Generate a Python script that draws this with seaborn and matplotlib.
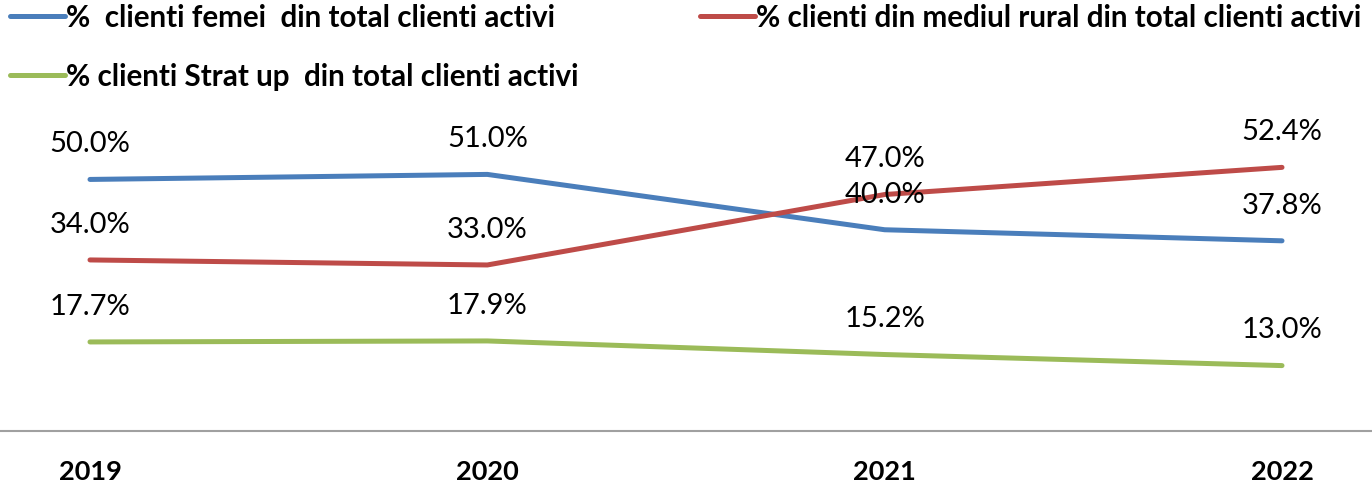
import pandas as pd
import numpy as np
import matplotlib.pyplot as plt
import seaborn as sns

# date
ani = [2019, 2020, 2021, 2022]
femei = [50.0, 51.0, 40.0, 37.8]
rural = [34.0, 33.0, 47.0, 52.4]
startup = [17.7, 17.9, 15.2, 13.0]

serii = ['%  clienti femei  din total clienti activi',
         '% clienti din mediul rural din total clienti activi',
         '% clienti Strat up  din total clienti activi']
culori = ['#4A7EBB', '#BE4B48', '#9BBB59']

df = pd.DataFrame({
    'an': ani * 3,
    'valoare': femei + rural + startup,
    'serie': [serii[0]] * 4 + [serii[1]] * 4 + [serii[2]] * 4,
})

sns.set_theme(style='white')
plt.rcParams['font.family'] = ['Lato', 'DejaVu Sans']
plt.rcParams['text.color'] = 'black'
plt.rcParams['xtick.color'] = 'black'

fig = plt.figure(figsize=(13.72, 4.85), dpi=100)
ax = fig.add_axes([0, 53 / 485, 1, 322 / 485])

sns.lineplot(data=df, x='an', y='valoare', hue='serie', hue_order=serii,
             palette=culori, linewidth=3.6, ax=ax, legend=False)
for line in ax.get_lines():
    line.set_solid_capstyle('round')

# etichete de date
for vals in [femei, rural, startup]:
    for x, v in zip(ani, vals):
        ax.annotate(f'{v:.1f}%', (x, v), xytext=(0, 26), textcoords='offset points',
                    ha='center', va='center', fontsize=21, color='black')

ax.set_xlim(2019 - 0.2265, 2022 + 0.2265)
ax.set_ylim(0, 64)
ax.set_xticks(ani)
ax.set_xticklabels([str(a) for a in ani], fontweight='bold', fontsize=19.5)
ax.set_yticks([])
ax.set_xlabel('')
ax.set_ylabel('')
ax.tick_params(axis='x', length=0, pad=20.5, colors='black')
for s in ['top', 'left', 'right']:
    ax.spines[s].set_visible(False)
ax.spines['bottom'].set_color('#A0A0A0')
ax.spines['bottom'].set_linewidth(1.5)

# legenda: coloana 1 = femei, startup; coloana 2 = rural
handles = [plt.Line2D([], [], color=c, linewidth=3.6, solid_capstyle='round') for c in culori]
ordine = [0, 2, 1]
fig.legend([handles[i] for i in ordine], [serii[i] for i in ordine], ncol=2,
           loc='upper left', bbox_to_anchor=(10 / 1372, 1 - 4 / 485), frameon=False,
           prop={'weight': 'bold', 'size': 21.3},
           handlelength=1.85, handletextpad=0.05, columnspacing=4.1, labelspacing=1.05,
           borderaxespad=0, borderpad=0)

fig.savefig('out.png', dpi=100)
